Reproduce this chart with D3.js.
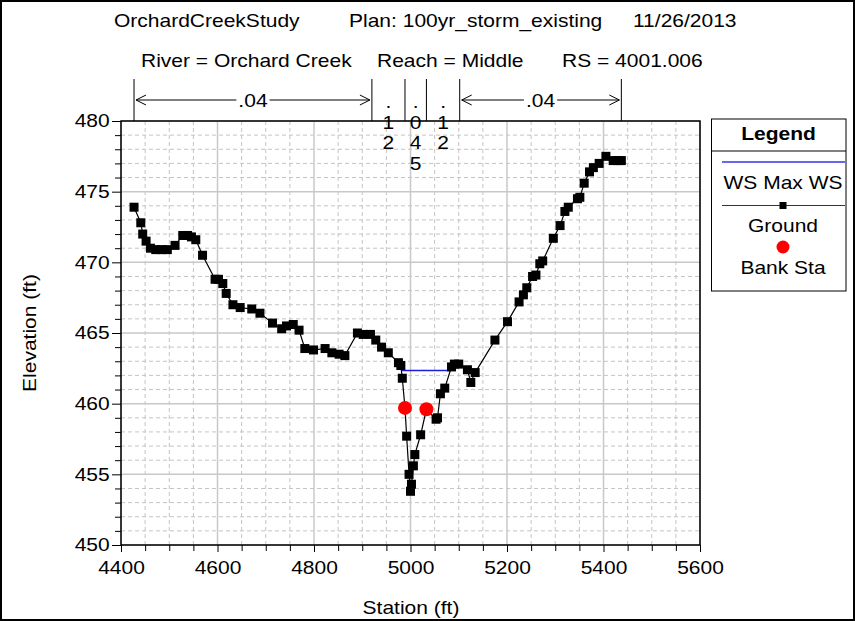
<!DOCTYPE html>
<html>
<head>
<meta charset="utf-8">
<script src="https://cdn.jsdelivr.net/npm/d3@7"></script>
<style>
  html, body { margin: 0; padding: 0; background: #fff; }
  svg text { font-family: "Liberation Sans", Arial, Helvetica, sans-serif; fill: #000; }
</style>
</head>
<body>
<svg id="chart" width="855" height="621"></svg>
<script>
// Cross-section ground survey (station ft, elevation ft)
const groundStation = [4427, 4441, 4445, 4452, 4461, 4472, 4484, 4496, 4512, 4528, 4538, 4546, 4555, 4569,
  4595, 4602, 4611, 4618, 4632, 4647, 4671, 4688, 4714, 4733, 4743, 4757, 4769, 4781, 4799, 4823,
  4837, 4852, 4864, 4890, 4902, 4917, 4928, 4940, 4954, 4975, 4980, 4983, 4988.6, 4992, 4997, 5000,
  5002, 5006, 5009, 5021, 5033, 5053, 5056, 5062, 5071, 5085, 5091, 5100, 5118, 5125, 5134, 5175,
  5201, 5225, 5234, 5241, 5253, 5260, 5268, 5274, 5296, 5310, 5320, 5327, 5346, 5351, 5360, 5371,
  5379, 5391, 5405, 5420, 5431, 5437];
const groundElev = [473.9, 472.8, 472.0, 471.5, 471.0, 470.9, 470.9, 470.9, 471.2, 471.9, 471.9, 471.8, 471.6, 470.5,
  468.8, 468.8, 468.5, 467.8, 467.0, 466.8, 466.7, 466.4, 465.7, 465.3, 465.5, 465.6, 465.2, 463.9, 463.8, 463.9,
  463.6, 463.5, 463.4, 465.0, 464.9, 464.9, 464.5, 464.0, 463.6, 462.9, 462.7, 461.8, 459.7, 457.7, 455.0, 453.8,
  454.3, 455.6, 456.4, 457.8, 459.6, 458.9, 459.0, 460.7, 461.1, 462.6, 462.8, 462.8, 462.4, 461.5, 462.2, 464.5,
  465.8, 467.2, 467.7, 468.2, 469.0, 469.1, 469.9, 470.1, 471.7, 472.6, 473.6, 473.9, 474.5, 474.6, 475.6, 476.4,
  476.7, 477.0, 477.5, 477.2, 477.2, 477.2];

// Bank stations
const bankStation = [4988.6, 5033];
const bankElev = [459.7, 459.6];

// Max water surface
const wsMaxElev = 462.34;

// Manning's n subsections: boundaries and values
const nBounds = [4427, 4920, 4988.6, 5033, 5102, 5437];
const nValues = [".04", ".12", ".045", ".12", ".04"];

// Axis ticks
const xMajorTicks = [4400, 4600, 4800, 5000, 5200, 5400, 5600];
const yMajorTicks = [450, 455, 460, 465, 470, 475, 480];

// Header text
const titleParts = ["OrchardCreekStudy", "Plan: 100yr_storm_existing", "11/26/2013"];
const subtitleParts = ["River = Orchard Creek", "Reach = Middle", "RS = 4001.006"];
const legendItems = ["WS Max WS", "Ground", "Bank Sta"];

const svg = d3.select("#chart");
const W = 855, H = 621;
const plot = { left: 121, right: 700, top: 121, bottom: 545 };
const FS = 18.6;     // glyph size
const SX = 1.13;     // horizontal glyph stretch of the wide sans face

const x = d3.scaleLinear().domain([4400, 5600]).range([plot.left, plot.right]);
const y = d3.scaleLinear().domain([450, 480]).range([plot.bottom, plot.top]);

// text helper: positioned by transform so the stretch keeps the anchor point
function label(parent, px, py, str, anchor = "start", bold = false, rot = 0) {
  return parent.append("text")
    .attr("transform", `translate(${px},${py})${rot ? ` rotate(${rot})` : ""} scale(${SX},1)`)
    .attr("text-anchor", anchor).attr("font-size", FS)
    .attr("font-weight", bold ? "bold" : null).text(str);
}

// outer frame
svg.append("rect").attr("x", 1).attr("y", 1).attr("width", W - 2).attr("height", H - 2)
  .attr("fill", "#fff").attr("stroke", "#000").attr("stroke-width", 2);

// header
const titleX = [114, 349, 633];
titleParts.forEach((t, i) => label(svg, titleX[i], 27, t));
const subX = [141, 377, 562];
subtitleParts.forEach((t, i) => label(svg, subX[i], 67, t));

// grid
const xMinor = d3.range(4400, 5601, 50).filter(v => v % 200 !== 0);
const yMinor = d3.range(450, 481, 1).filter(v => v % 5 !== 0);
const grid = svg.append("g");
grid.selectAll(".gxm").data(xMinor).join("line")
  .attr("x1", d => x(d)).attr("x2", d => x(d)).attr("y1", plot.top).attr("y2", plot.bottom)
  .attr("stroke", "#c4c4c4").attr("stroke-dasharray", "4,3");
grid.selectAll(".gym").data(yMinor).join("line")
  .attr("y1", d => y(d)).attr("y2", d => y(d)).attr("x1", plot.left).attr("x2", plot.right)
  .attr("stroke", "#c4c4c4").attr("stroke-dasharray", "4,3");
grid.selectAll(".gxM").data(xMajorTicks).join("line")
  .attr("x1", d => x(d)).attr("x2", d => x(d)).attr("y1", plot.top).attr("y2", plot.bottom)
  .attr("stroke", "#c8c8c8").attr("stroke-width", 1.5);
grid.selectAll(".gyM").data(yMajorTicks).join("line")
  .attr("y1", d => y(d)).attr("y2", d => y(d)).attr("x1", plot.left).attr("x2", plot.right)
  .attr("stroke", "#c8c8c8").attr("stroke-width", 1.5);

// plot frame
svg.append("rect").attr("x", plot.left).attr("y", plot.top)
  .attr("width", plot.right - plot.left).attr("height", plot.bottom - plot.top)
  .attr("fill", "none").attr("stroke", "#000").attr("stroke-width", 1.5);

// axes
const xAxisMinor = d3.axisBottom(x).tickValues(xMinor).tickSize(6).tickFormat("");
const xAxis = d3.axisBottom(x).tickValues(xMajorTicks).tickSize(7).tickPadding(9).tickFormat(d3.format("d"));
const yAxisMinor = d3.axisLeft(y).tickValues(yMinor).tickSize(6).tickFormat("");
const yAxis = d3.axisLeft(y).tickValues(yMajorTicks).tickSize(9).tickPadding(1).tickFormat(d3.format("d"));

function styleAxis(g) {
  g.select(".domain").remove();
  g.selectAll("line").attr("stroke", "#000");
  g.selectAll("text").attr("font-size", FS).attr("font-family", "Liberation Sans, Arial, sans-serif")
    .attr("transform", `scale(${SX},1)`);
}
svg.append("g").attr("transform", `translate(0,${plot.bottom})`).call(xAxisMinor).call(styleAxis);
svg.append("g").attr("transform", `translate(0,${plot.bottom})`).call(xAxis).call(styleAxis);
svg.append("g").attr("transform", `translate(${plot.left},0)`).call(yAxisMinor).call(styleAxis);
svg.append("g").attr("transform", `translate(${plot.left},0)`).call(yAxis).call(styleAxis);

// axis titles
label(svg, x(5000) + 0.5, 614, "Station (ft)", "middle");
label(svg, 36, (plot.top + plot.bottom) / 2, "Elevation (ft)", "middle", false, -90);

// Manning's n subsections
const nTop = 79, arrowY = 100;
const ng = svg.append("g");
nBounds.forEach(b => {
  ng.append("line").attr("x1", x(b)).attr("x2", x(b)).attr("y1", nTop).attr("y2", plot.top)
    .attr("stroke", "#000").attr("stroke-width", 1);
});
nValues.forEach((v, i) => {
  const x0 = x(nBounds[i]), x1 = x(nBounds[i + 1]);
  const cx = (x0 + x1) / 2;
  if (x1 - x0 > 80) {
    const t = label(ng, cx, arrowY + 7, v, "middle");
    const tw = t.node().getComputedTextLength() * SX;
    ng.append("line").attr("x1", x0 + 2).attr("x2", cx - tw / 2 - 2).attr("y1", arrowY).attr("y2", arrowY)
      .attr("stroke", "#000");
    ng.append("line").attr("x1", cx + tw / 2 + 2).attr("x2", x1 - 2).attr("y1", arrowY).attr("y2", arrowY)
      .attr("stroke", "#000");
    ng.append("path").attr("d", `M${x0 + 12},${arrowY - 5}L${x0 + 2},${arrowY}L${x0 + 12},${arrowY + 5}`)
      .attr("fill", "none").attr("stroke", "#000");
    ng.append("path").attr("d", `M${x1 - 12},${arrowY - 5}L${x1 - 2},${arrowY}L${x1 - 12},${arrowY + 5}`)
      .attr("fill", "none").attr("stroke", "#000");
  } else {
    v.split("").forEach((ch, k) => label(ng, cx, 108 + k * 20.5, ch, "middle"));
  }
});

// water surface: segments where ground lies below the max WS
const wsSegs = [];
let cur = null;
for (let i = 0; i < groundStation.length - 1; i++) {
  const s0 = groundStation[i], s1 = groundStation[i + 1];
  const e0 = groundElev[i], e1 = groundElev[i + 1];
  const below0 = e0 < wsMaxElev, below1 = e1 < wsMaxElev;
  if (!below0 && below1) {
    cur = [s0 + (wsMaxElev - e0) / (e1 - e0) * (s1 - s0)];
  } else if (below0 && !below1 && cur) {
    cur.push(s0 + (wsMaxElev - e0) / (e1 - e0) * (s1 - s0));
    wsSegs.push(cur); cur = null;
  }
}
svg.append("g").selectAll("line").data(wsSegs).join("line")
  .attr("x1", d => x(d[0])).attr("x2", d => x(d[1]))
  .attr("y1", y(wsMaxElev)).attr("y2", y(wsMaxElev))
  .attr("stroke", "#1c1cdc").attr("stroke-width", 1.5);

// ground line and markers
const groundPts = groundStation.map((s, i) => [s, groundElev[i]]);
svg.append("path").datum(groundPts)
  .attr("d", d3.line().x(d => x(d[0])).y(d => y(d[1])))
  .attr("fill", "none").attr("stroke", "#000").attr("stroke-width", 1.2);
svg.append("g").selectAll("rect").data(groundPts).join("rect")
  .attr("x", d => x(d[0]) - 4.5).attr("y", d => y(d[1]) - 4.5)
  .attr("width", 9).attr("height", 9).attr("fill", "#000");

// bank stations
svg.append("g").selectAll("circle").data(bankStation.map((s, i) => [s, bankElev[i]])).join("circle")
  .attr("cx", d => x(d[0])).attr("cy", d => y(d[1])).attr("r", 7).attr("fill", "#ff0000");

// legend
const lg = svg.append("g");
lg.append("rect").attr("x", 711.5).attr("y", 119).attr("width", 134.5).attr("height", 172)
  .attr("fill", "#fff").attr("stroke", "#000").attr("stroke-width", 1);
lg.append("line").attr("x1", 711.5).attr("x2", 846).attr("y1", 151).attr("y2", 151).attr("stroke", "#000");
label(lg, 778.5, 140, "Legend", "middle", true);
lg.append("line").attr("x1", 722).attr("x2", 845).attr("y1", 162).attr("y2", 162)
  .attr("stroke", "#3333ee").attr("stroke-width", 1.5);
label(lg, 783, 189, legendItems[0], "middle");
lg.append("line").attr("x1", 722).attr("x2", 845).attr("y1", 205.5).attr("y2", 205.5)
  .attr("stroke", "#333").attr("stroke-width", 1.2);
lg.append("rect").attr("x", 779.5).attr("y", 202).attr("width", 7).attr("height", 7).attr("fill", "#000");
label(lg, 783, 232, legendItems[1], "middle");
lg.append("circle").attr("cx", 783).attr("cy", 247).attr("r", 6.5).attr("fill", "#ff0000");
label(lg, 783, 274, legendItems[2], "middle");
</script>
</body>
</html>
